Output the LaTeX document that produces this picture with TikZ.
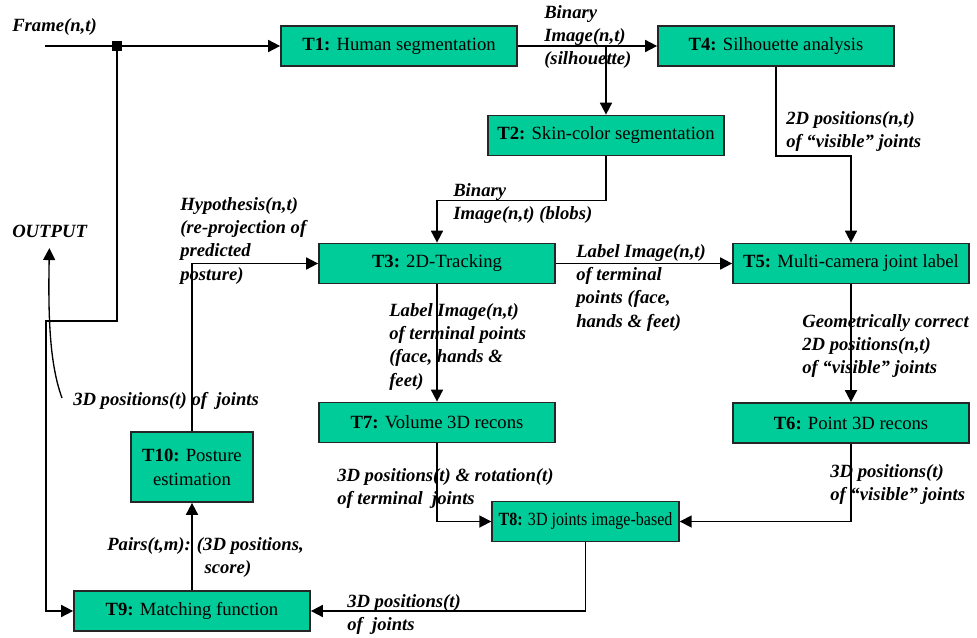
\documentclass[tikz,border=0pt]{standalone}
\usepackage{fontspec}
\setmainfont{Liberation Serif}
\usepackage{tikz}
\usetikzlibrary{arrows.meta}
\definecolor{taskgreen}{RGB}{0,204,153}
\tikzstyle{task} = [rectangle, minimum width=177pt, minimum height=30pt, inner sep=2pt, text centered, draw=black!85, line width=1.3pt, fill=taskgreen, font=\fontsize{14}{18}\selectfont]
\tikzstyle{arrow} = [line width=1.3pt, -{Triangle[length=9pt, width=9pt]}]
\tikzstyle{lbl} = [anchor=north west, inner sep=0pt, align=left, font=\fontsize{14}{17.5}\selectfont\bfseries\itshape]
\tikzstyle{junction} = [rectangle, fill=black, minimum size=8pt, inner sep=0pt]

\begin{document}
\begin{tikzpicture}[x=0.75pt, y=-0.75pt]
    \useasboundingbox (0,0) rectangle (977,638);

    % Task boxes
    \node (t1) [task] at (399,46) {\textbf{T1:} Human segmentation};
    \node (t4) [task] at (776,46) {\textbf{T4:} Silhouette analysis};
    \node (t2) [task] at (606,135.5) {\textbf{T2:} Skin-color segmentation};
    \node (t3) [task] at (437,263.5) {\textbf{T3:} 2D-Tracking};
    \node (t5) [task] at (851,263.5) {\textbf{T5:} Multi-camera joint label};
    \node (t7) [task] at (437,422.5) {\textbf{T7:} Volume 3D recons};
    \node (t6) [task] at (851,423) {\textbf{T6:} Point 3D recons};
    \node (t8) [task, minimum width=140pt] at (585.5,521.5) {\scalebox{0.86}[1]{\textbf{T8:} 3D joints image-based}};
    \node (t10) [task, minimum width=92pt, minimum height=52.5pt, align=center] at (192,467) {\textbf{T10:} Posture\\estimation};
    \node (t9) [task] at (192,611) {\textbf{T9:} Matching function};

    % Input and junction
    \coordinate (in) at (45,46);
    \node (jn) [junction] at (117,46) {};

    % Arrows
    \draw [arrow] (in) -- (t1);
    \draw [arrow] (t1) -- (t4);
    \coordinate (split) at (t2.north |- t1.east);
    \draw [arrow] (split) -- (t2);
    \draw [arrow] (t2.south) -- ++(0,44) -| (t3.north);
    \draw [arrow] (t4.south) -- ++(0,89) -| (t5.north);
    \draw [arrow] (t3) -- (t5);
    \draw [arrow] (t3) -- (t7);
    \draw [arrow] (t5) -- (t6);
    \draw [arrow] (t7.south) |- (t8.west);
    \draw [arrow] (t6.south) |- (t8.east);
    \draw [arrow] (t8.south) |- (t9.east);
    \draw [arrow] (t9) -- (t10);
    \draw [arrow] (t10.north) |- (t3.west);
    \draw [arrow] (jn.center) -- ++(0,275) -- ++(-71,0) |- (t9.west);

    % Labels
    \node (frame) [lbl] at (12,18) {Frame(n,t)};
    \node (output) [lbl] at (12,225) {OUTPUT};
    \node (bin1) [lbl] at (544,5) {Binary\\Image(n,t)\\(silhouette)};
    \node (vis2d) [lbl] at (786,111) {2D positions(n,t)\\of “visible” joints};
    \node (bin2) [lbl] at (453,183) {Binary\\Image(n,t) (blobs)};
    \node (hyp) [lbl] at (180,197) {Hypothesis(n,t)\\(re-projection of\\predicted\\posture)};
    \node (out3d) [lbl] at (73,392) {3D positions(t) of\ \ joints};
    \node (lbl35) [lbl] at (576,244) {Label Image(n,t)\\of terminal\\points (face,\\hands \& feet)};
    \node (lbl37) [lbl] at (389,303) {Label Image(n,t)\\of terminal points\\(face, hands \&\\feet)};
    \node (geo) [lbl] at (802,314) {Geometrically correct\\2D positions(n,t)\\of “visible” joints};
    \node (rot) [lbl] at (337,468) {3D positions(t) \& rotation(t)\\of terminal\ \ joints};
    \node (vis3d) [lbl] at (830,464) {3D positions(t)\\of “visible” joints};
    \node (pairs) [lbl] at (107,537) {Pairs(t,m): (3D positions,\\\hspace*{73pt}score)};
    \node (pos9) [lbl] at (347,594) {3D positions(t)\\of\ \ joints};

    % Output callout
    \coordinate (callout) at (62,398);
    \draw [arrow, line width=1pt, shorten >=7.5pt] (callout) .. controls (50,365) and (48,320) .. (output.south);
\end{tikzpicture}
\end{document}
